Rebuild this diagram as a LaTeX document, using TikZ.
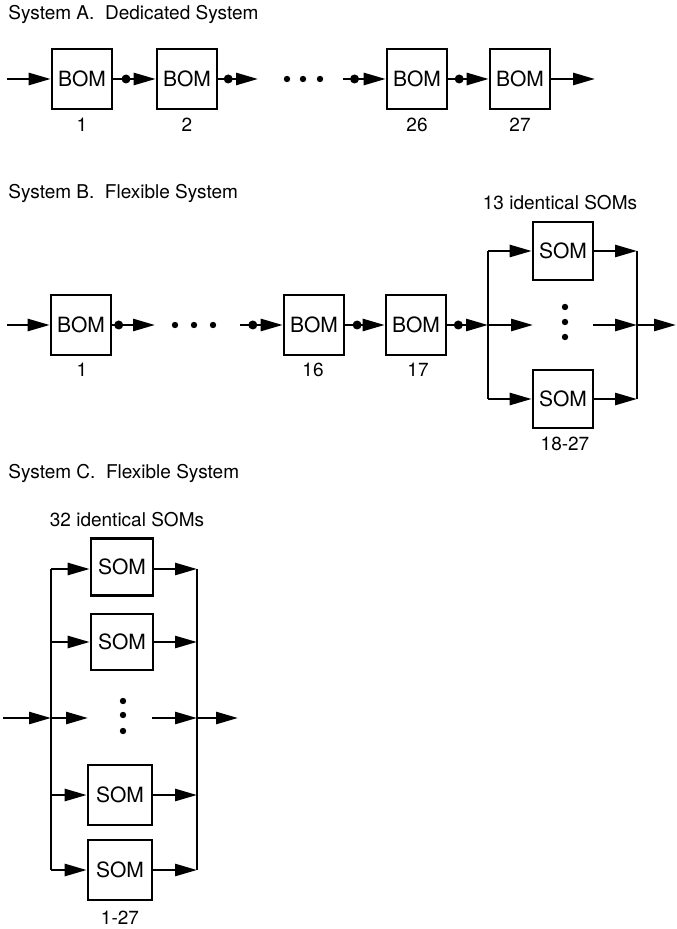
\documentclass[tikz,border=0pt]{standalone}
\usepackage{fontspec}
\setmainfont{TeX Gyre Heros}
\usetikzlibrary{arrows.meta,positioning}

\tikzset{
  module/.style={draw,line width=1.3pt,minimum width=30pt,minimum height=30pt,inner sep=0pt,
    font=\fontsize{10.5}{12}\selectfont},
  flow/.style={line width=1.3pt,-{Triangle[length=11pt,width=6pt]}},
  bus/.style={line width=1.3pt},
  tapdot/.style={circle,fill,inner sep=0pt,minimum size=4.5pt},
  tag/.style={font=\fontsize{9.5}{11}\selectfont,inner sep=1pt},
  heading/.style={font=\fontsize{9.5}{11}\selectfont,anchor=west,inner sep=0pt},
}

\begin{document}
\begin{tikzpicture}[x=0.5pt,y=-0.5pt]
\useasboundingbox (0,0) rectangle (676,929);

% System A
\node[heading] (titleA) at (8,14) {System A.\ \ Dedicated System};
\node[module] (a1) at (82,79) {BOM};
\node[module] (a2) at (187,79) {BOM};
\node[module] (a26) at (417,79) {BOM};
\node[module] (a27) at (520,79) {BOM};
\node[tag] (na1) at (82,125) {1};
\node[tag] (na2) at (187,125) {2};
\node[tag] (na26) at (417,125) {26};
\node[tag] (na27) at (520,125) {27};
\coordinate (ainA) at (7,79);
\coordinate (aend2) at (258,79);
\coordinate (abeg26) at (343,79);
\coordinate (aout) at (595,79);
\draw[flow] (ainA) -- (a1.west);
\draw[flow] (a1.east) -- node[tapdot,pos=0.3]{} (a2.west);
\draw[flow] (a2.east) -- node[tapdot,pos=0.25]{} (aend2);
\foreach \x in {287,303,320} \fill (\x,79) circle (1.6pt);
\draw[flow] (abeg26) -- node[tapdot,pos=0.27]{} (a26.west);
\draw[flow] (a26.east) -- node[tapdot,pos=0.27]{} (a27.west);
\draw[flow] (a27.east) -- (aout);

% System B
\node[heading] (titleB) at (8,193) {System B.\ \ Flexible System};
\node[module] (b1) at (81,325) {BOM};
\node[module] (b16) at (314,325) {BOM};
\node[module] (b17) at (416,325) {BOM};
\node[tag] (nb1) at (82,370) {1};
\node[tag] (nb16) at (313,370) {16};
\node[tag] (nb17) at (418,370) {17};
\coordinate (binB) at (7,325);
\coordinate (bend1) at (155,325);
\coordinate (bbeg16) at (240,325);
\draw[flow] (binB) -- (b1.west);
\draw[flow] (b1.east) -- node[tapdot,pos=0.15]{} (bend1);
\foreach \x in {175,194,213} \fill (\x,325) circle (1.6pt);
\draw[flow] (bbeg16) -- node[tapdot,pos=0.3]{} (b16.west);
\draw[flow] (b16.east) -- node[tapdot,pos=0.3]{} (b17.west);

\node[module,minimum height=29pt] (bs1) at (563,251) {SOM};
\node[module,minimum height=29pt] (bs2) at (563,399) {SOM};
\node[tag] (nbs) at (560,203) {13 identical SOMs};
\node[tag] (nbr) at (565,444) {18-27};
\coordinate (bjL) at (488,325);
\coordinate (bLt) at (488,251);
\coordinate (bLb) at (488,399);
\coordinate (bjR) at (637,325);
\coordinate (bRt) at (637,251);
\coordinate (bRb) at (637,399);
\coordinate (bmidL) at (533,325);
\coordinate (bmidR) at (593,325);
\coordinate (bout) at (676,325);
\draw[flow] (b17.east) -- node[tapdot,pos=0.27]{} (bjL);
\draw[bus] (bLt) -- (bLb);
\draw[bus] (bRt) -- (bRb);
\draw[flow] (bLt) -- (bs1.west);
\draw[flow] (bLb) -- (bs2.west);
\draw[flow] (bjL) -- (bmidL);
\draw[flow] (bs1.east) -- (bRt);
\draw[flow] (bs2.east) -- (bRb);
\draw[flow] (bmidR) -- (bjR);
\draw[flow] (bjR) -- (bout);
\foreach \y in {307,322,337} \fill (565,\y) circle (1.6pt);

% System C
\node[heading] (titleC) at (8,473) {System C.\ \ Flexible System};
\node[tag] (ncs) at (127,520) {32 identical SOMs};
\node[module,minimum width=31pt,minimum height=28.5pt] (c1) at (122,567) {SOM};
\node[module,minimum width=31pt,minimum height=28pt] (c2) at (122,642) {SOM};
\node[module,minimum width=32pt,minimum height=30pt] (c3) at (120,795) {SOM};
\node[module,minimum width=32pt,minimum height=30pt] (c4) at (120,870) {SOM};
\node[tag] (ncr) at (120,918) {1-27};
\coordinate (cin) at (3,718);
\coordinate (cjL) at (51,718);
\coordinate (cjR) at (197,718);
\coordinate (cmidL) at (88,718);
\coordinate (cmidR) at (152,718);
\coordinate (cout) at (238,718);
\draw[bus] (51,569) coordinate (cL1) -- (51,870) coordinate (cL4);
\draw[bus] (197,569) coordinate (cR1) -- (197,870) coordinate (cR4);
\coordinate (cL2) at (51,642);
\coordinate (cL3) at (51,795);
\coordinate (cR2) at (197,642);
\coordinate (cR3) at (197,795);
\draw[flow] (cL1) -- (c1.west |- cL1);
\draw[flow] (cL2) -- (c2.west);
\draw[flow] (cL3) -- (c3.west);
\draw[flow] (cL4) -- (c4.west);
\draw[flow] (c1.east |- cR1) -- (cR1);
\draw[flow] (c2.east) -- (cR2);
\draw[flow] (c3.east) -- (cR3);
\draw[flow] (c4.east) -- (cR4);
\draw[flow] (cin) -- (cjL);
\draw[flow] (cjL) -- (cmidL);
\draw[flow] (cmidR) -- (cjR);
\draw[flow] (cjR) -- (cout);
\foreach \y in {701,715,731} \fill (123,\y) circle (1.6pt);
\end{tikzpicture}
\end{document}
